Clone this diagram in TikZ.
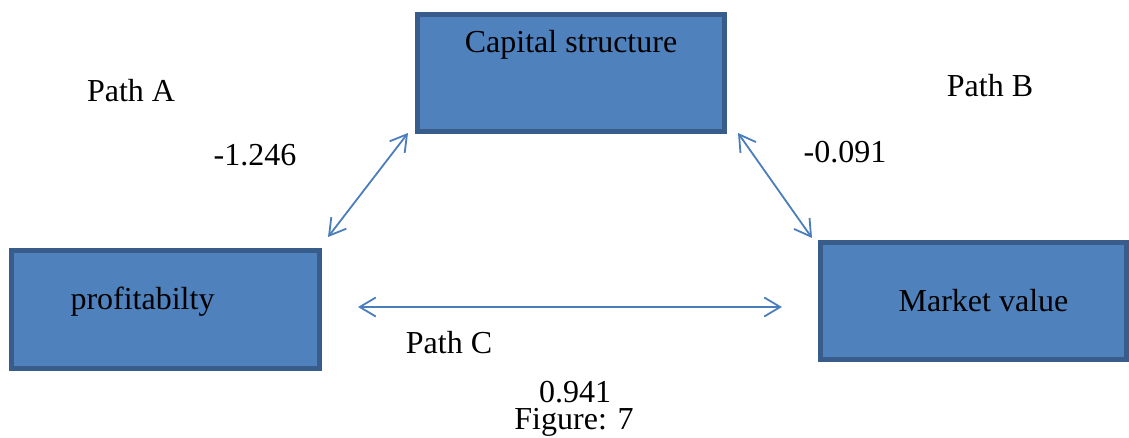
\documentclass[tikz,border=0pt]{standalone}
\usepackage{fontspec}
\setmainfont{Liberation Serif}
\newfontfamily\tnr{Liberation Serif}
\usetikzlibrary{arrows.meta}
\definecolor{boxfill}{HTML}{4F81BD}
\definecolor{boxline}{HTML}{385D8A}
\definecolor{arrowc}{HTML}{4A7EBB}
\begin{document}
\begin{tikzpicture}[x=1pt,y=-1pt,
  box/.style={draw=boxline,fill=boxfill,line width=5pt,rectangle,inner sep=0pt},
  boxtext/.style={font=\tnr\fontsize{32}{32}\selectfont,text=black},
  lbl/.style={font=\tnr\fontsize{32}{32}\selectfont,text=black,inner sep=0pt},
  conn/.style={draw=arrowc,line width=1.8pt,{Straight Barb[length=16pt,width=19pt,line width=1.8pt]}-{Straight Barb[length=16pt,width=19pt,line width=1.8pt]}}]
\useasboundingbox (0,0) rectangle (1129,438);
\node[box,minimum width=307pt,minimum height=117pt,
  label={[boxtext,anchor=center,yshift=-33pt]north:Capital structure}] (cap) at (571,73) {};
\node[box,minimum width=308pt,minimum height=118pt,
  label={[boxtext,anchor=center,xshift=-23pt,yshift=8pt]center:profitabilty}] (prof) at (165.5,309.5) {};
\node[box,minimum width=306pt,minimum height=117pt,
  label={[boxtext,anchor=center,xshift=10pt]center:Market value}] (mv) at (973.5,301) {};
\coordinate (a1) at (328,237);
\coordinate (a2) at (408,133);
\coordinate (b1) at (738,133);
\coordinate (b2) at (812,238);
\coordinate (c1) at (358,307);
\coordinate (c2) at (782,307);
\draw[conn] (a1) -- (a2);
\draw[conn] (b1) -- (b2);
\draw[conn] (c1) -- (c2);
\node[lbl] (pa) at (131,91) {Path A};
\node[lbl] (va) at (255,155) {-1.246};
\node[lbl] (pb) at (990,86) {Path B};
\node[lbl] (vb) at (845,152) {-0.091};
\node[lbl] (pc) at (449,343) {Path C};
\node[lbl] (vc) at (575,392) {0.941};
\node[lbl] (fig) at (574,422) {Figure: 7};
\end{tikzpicture}
\end{document}
